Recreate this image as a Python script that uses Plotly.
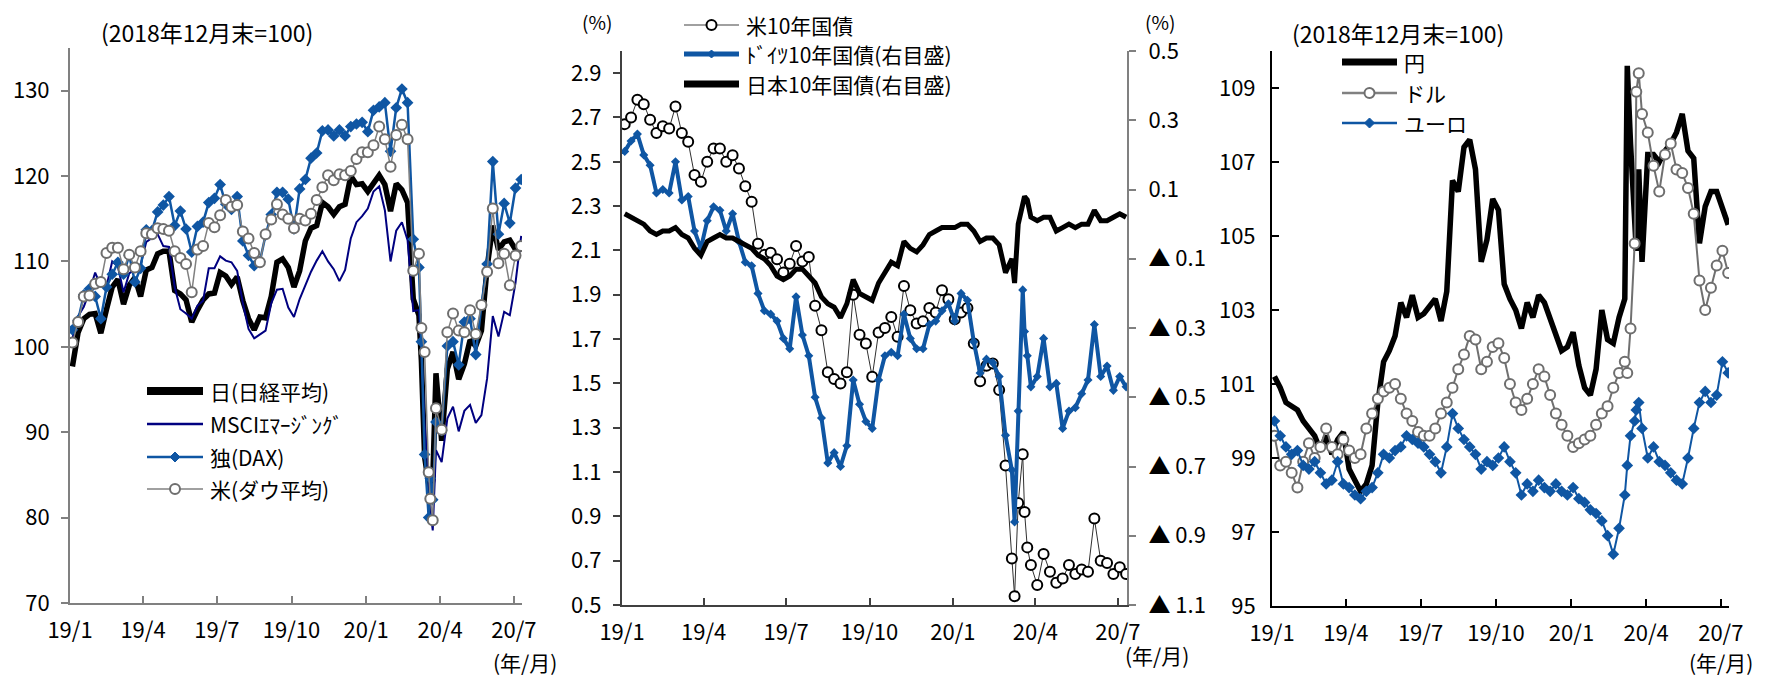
import pandas as pd
import plotly.graph_objects as go

# The page body has an 8px margin, so the figure is drawn 8px in from the
# window corner; it is sized so that it fits the 1771x686 window exactly.
WIN_W, WIN_H = 1771, 686
OFF = 8
FW, FH = WIN_W - 2 * OFF, WIN_H - 2 * OFF
FONT = "Noto Sans CJK JP"

# ---------------- data ----------------
weekly = pd.date_range("2019-01-04", "2020-07-10", freq="7D")
extra = pd.to_datetime(["2020-03-09", "2020-03-18", "2020-03-23"])
dates = weekly.union(extra)

tick_dates = ["2019-01-01", "2019-04-01", "2019-07-01", "2019-10-01",
              "2020-01-01", "2020-04-01", "2020-07-01"]
tick_labels = ["19/1", "19/4", "19/7", "19/10", "20/1", "20/4", "20/7"]

# panel 1 : stock indices (end-2018 = 100)
nikkei = [97.7, 101.7, 103.3, 103.8,
          103.9, 101.6, 104.4, 107.0,
          107.9, 105.0, 107.2, 108.1, 105.9,
          109.0, 109.3, 110.9, 111.2,
          111.2, 106.6, 106.2, 105.5, 102.9,
          104.3, 105.5, 106.2, 106.3,
          108.7, 108.3, 107.3, 108.2,
          105.4, 103.3, 102.0, 103.5, 103.4,
          105.9, 109.9, 110.3, 109.3,
          107.0, 108.9, 112.4, 113.9,
          114.2, 116.9, 116.4, 115.5, 116.4,
          116.7, 120.0, 119.0, 119.1,
          118.2, 119.2, 120.1, 119.0, 115.9,
          119.1, 118.4, 116.9, 105.6,
          103.7, 98.4, 87.1, 83.6, 82.7, 84.4, 96.9,
          89.0, 97.4, 99.4, 96.2,
          98.0, 100.8, 100.1, 101.9, 109.3,
          114.2, 111.4, 112.3, 112.5,
          111.4, 111.4]
msci_em = [101.0, 103.6, 104.7, 106.5,
           108.7, 107.1, 107.1, 110.0,
           109.4, 106.4, 108.6, 109.1, 109.6,
           112.3, 112.7, 113.2, 111.8,
           111.7, 107.0, 104.4, 103.9, 103.3,
           104.8, 105.4, 109.2, 109.2,
           110.6, 110.1, 109.9, 108.9,
           105.1, 102.1, 101.0, 101.5, 101.9,
           105.1, 106.7, 106.8, 104.6,
           103.5, 105.6, 107.2, 108.8,
           110.1, 111.2, 110.0, 109.1, 107.7,
           109.0, 112.7, 114.6, 115.3,
           116.2, 118.2, 118.8, 116.0, 110.0,
           113.6, 114.6, 112.5, 104.2,
           104.3, 99.6, 90.9, 84.8, 81.0, 78.5, 87.9,
           86.5, 91.6, 93.0, 90.1,
           92.5, 93.2, 91.1, 92.0, 96.3,
           103.6, 101.2, 104.1, 103.7,
           107.5, 113.0]
dax = [102.0, 103.1, 106.1, 106.8,
       105.9, 103.3, 107.0, 108.5,
       109.9, 108.5, 110.7, 107.6, 109.2,
       113.7, 113.6, 115.8, 116.6,
       117.6, 114.2, 115.9, 113.8, 111.1,
       114.1, 114.6, 116.9, 117.4,
       119.0, 116.7, 116.1, 117.6,
       112.4, 110.7, 109.5, 110.0, 113.1,
       115.5, 118.1, 118.1, 117.3,
       113.8, 118.5, 119.6, 122.1,
       122.7, 125.3, 125.4, 124.7, 125.4,
       124.7, 125.8, 126.1, 126.3,
       125.2, 127.7, 128.1, 128.6, 122.9,
       128.0, 130.2, 128.6, 112.6,
       109.3, 100.6, 87.4, 80.0, 84.6, 82.1, 91.2,
       90.2, 100.1, 100.6, 97.9,
       102.9, 103.3, 99.1, 104.9, 109.7,
       121.7, 113.2, 116.8, 114.5,
       118.6, 119.6]
dow = [100.5, 102.9, 105.9, 106.0,
       107.4, 107.6, 111.0, 111.6,
       111.6, 109.1, 110.8, 109.3, 111.2,
       113.3, 113.2, 113.9, 113.8,
       113.6, 111.2, 110.4, 109.7, 106.4,
       111.4, 111.8, 114.5, 114.0,
       115.4, 117.2, 116.4, 116.6,
       113.5, 112.7, 111.0, 109.9, 113.2,
       114.9, 116.7, 115.5, 115.0,
       113.9, 115.0, 114.8, 115.6,
       117.2, 118.7, 120.1, 119.5, 120.2,
       120.1, 120.6, 122.0, 122.8,
       122.8, 123.6, 125.8, 124.3, 121.1,
       124.8, 126.0, 124.3, 108.9,
       110.9, 102.2, 99.4, 85.3, 82.2, 79.7, 92.8,
       90.3, 101.7, 103.9, 101.9,
       101.7, 104.3, 101.5, 104.9, 108.8,
       116.2, 109.8, 110.9, 107.2,
       110.7, 111.8]

# panel 2 : 10-year government bond yields (%)
us10y = [2.67, 2.70, 2.78, 2.76,
         2.69, 2.63, 2.66, 2.65,
         2.75, 2.63, 2.59, 2.44, 2.41,
         2.50, 2.56, 2.56, 2.50,
         2.53, 2.47, 2.39, 2.32, 2.13,
         2.08, 2.09, 2.06, 2.00,
         2.04, 2.12, 2.05, 2.07,
         1.85, 1.74, 1.55, 1.52, 1.50,
         1.55, 1.90, 1.72, 1.68,
         1.53, 1.73, 1.75, 1.80,
         1.71, 1.94, 1.83, 1.77, 1.78,
         1.84, 1.82, 1.92, 1.88,
         1.79, 1.82, 1.84, 1.68, 1.51,
         1.58, 1.59, 1.47, 1.13,
         0.71, 0.54, 0.96, 1.18, 0.92, 0.76, 0.68,
         0.59, 0.73, 0.65, 0.60,
         0.62, 0.68, 0.64, 0.66, 0.65,
         0.89, 0.70, 0.69, 0.64,
         0.67, 0.64]
de10y = [0.21, 0.24, 0.26, 0.20,
         0.17, 0.09, 0.10, 0.09,
         0.18, 0.07, 0.08, -0.02, -0.07,
         0.01, 0.05, 0.04, -0.02,
         0.03, -0.05, -0.11, -0.12, -0.20,
         -0.25, -0.26, -0.28, -0.33,
         -0.36, -0.21, -0.32, -0.38,
         -0.50, -0.56, -0.69, -0.66, -0.70,
         -0.64, -0.45, -0.52, -0.57,
         -0.59, -0.45, -0.38, -0.37,
         -0.38, -0.26, -0.33, -0.36, -0.36,
         -0.29, -0.28, -0.25, -0.23,
         -0.28, -0.20, -0.22, -0.34, -0.43,
         -0.39, -0.40, -0.44, -0.61,
         -0.71, -0.86, -0.54, -0.19, -0.31, -0.38, -0.47,
         -0.44, -0.33, -0.47, -0.46,
         -0.59, -0.54, -0.53, -0.49, -0.45,
         -0.29, -0.44, -0.41, -0.48,
         -0.44, -0.47]
jp10y = [0.03, 0.02, 0.01, 0.00,
         -0.02, -0.03, -0.02, -0.02,
         -0.01, -0.03, -0.04, -0.07, -0.09,
         -0.05, -0.04, -0.03, -0.04,
         -0.04, -0.05, -0.06, -0.07, -0.09,
         -0.10, -0.12, -0.15, -0.16,
         -0.15, -0.13, -0.13, -0.15,
         -0.17, -0.21, -0.23, -0.24, -0.27,
         -0.23, -0.16, -0.20, -0.21,
         -0.22, -0.17, -0.14, -0.11,
         -0.12, -0.05, -0.07, -0.08, -0.06,
         -0.03, -0.02, -0.01, -0.01,
         -0.01, 0.00, 0.00, -0.02, -0.05,
         -0.04, -0.04, -0.06, -0.14,
         -0.10, -0.17, 0.00, 0.07, 0.08, 0.07, 0.02,
         0.01, 0.02, 0.02, -0.02,
         -0.01, 0.00, -0.01, 0.00, 0.00,
         0.04, 0.01, 0.01, 0.02,
         0.03, 0.02]

# panel 3 : currencies (end-2018 = 100)
yen = [101.2, 100.9, 100.5, 100.4,
       100.3, 100.0, 99.8, 99.6,
       99.2, 99.6, 99.1, 99.5, 99.7,
       98.7, 98.4, 98.1, 98.3,
       98.8, 100.5, 101.6, 101.9, 102.3,
       103.2, 102.8, 103.4, 102.8,
       102.9, 103.1, 103.3, 102.7,
       103.5, 106.5, 106.2, 107.4, 107.6,
       106.8, 104.3, 104.9, 106.0,
       105.7, 103.7, 103.3, 103.0,
       102.5, 103.2, 102.8, 103.4, 103.2,
       102.8, 102.3, 101.9, 102.0,
       102.4, 101.5, 100.9, 100.7, 101.4,
       103.0, 102.2, 102.1, 102.8,
       103.3, 109.6, 107.5, 105.2, 104.6, 106.8, 104.3,
       107.2, 107.2, 107.0, 107.3,
       107.5, 107.8, 108.3, 107.3, 107.1,
       104.8, 105.8, 106.2, 106.2,
       105.7, 105.3]
usd = [99.6, 98.8, 98.9, 98.6,
       98.2, 98.9, 99.4, 99.0,
       99.3, 99.8, 99.3, 99.1, 99.5,
       99.2, 99.0, 99.1, 99.8,
       100.2, 100.6, 100.8, 100.9, 101.0,
       100.6, 100.2, 100.0, 99.7,
       99.6, 99.6, 99.8, 100.2,
       100.5, 100.9, 101.4, 101.8, 102.3,
       102.2, 101.4, 101.6, 102.0,
       102.1, 101.7, 101.0, 100.5,
       100.3, 100.6, 101.0, 101.4, 101.2,
       100.7, 100.2, 99.9, 99.6,
       99.3, 99.4, 99.5, 99.6, 99.9,
       100.2, 100.4, 100.9, 101.3,
       101.6, 101.3, 102.5, 104.8, 108.9, 109.4, 108.3,
       107.8, 106.9, 106.2, 107.2,
       107.5, 106.8, 106.7, 106.3, 105.6,
       103.8, 103.0, 103.6, 104.2,
       104.6, 104.0]
eur = [100.0, 99.6, 99.3, 99.1,
       99.2, 98.8, 98.7, 98.9,
       98.6, 98.3, 98.4, 98.9, 98.3,
       98.2, 98.0, 97.9, 98.1,
       98.2, 98.6, 99.1, 99.0, 99.2,
       99.3, 99.6, 99.5, 99.4,
       99.3, 99.1, 98.9, 98.6,
       99.3, 100.2, 99.8, 99.5, 99.3,
       99.1, 98.7, 98.9, 98.8,
       99.0, 99.3, 98.9, 98.6,
       98.0, 98.3, 98.1, 98.4, 98.2,
       98.1, 98.3, 98.1, 98.0,
       98.2, 97.9, 97.8, 97.6, 97.5,
       97.3, 96.9, 96.4, 97.1,
       98.0, 98.8, 99.6, 100.0, 100.3, 100.5, 99.8,
       99.0, 99.3, 98.9, 98.8,
       98.6, 98.4, 98.3, 99.0, 99.8,
       100.5, 100.8, 100.5, 100.7,
       101.6, 101.3]

for s in (nikkei, msci_em, dax, dow, us10y, de10y, jp10y, yen, usd, eur):
    assert len(s) == len(dates), len(s)

# ---------------- styling ----------------
BLACK = "#000000"
NAVY = "#000080"
BLUE = "#0F56A3"
GREY = "#6E6E6E"
LGREY = "#808080"


def px(x):
    """window pixel x -> paper fraction"""
    return (x - OFF) / FW


def py(y):
    """window pixel y (from top) -> paper fraction"""
    return 1 - (y - OFF) / FH


X_RANGE = ["2019-01-01", "2020-07-11"]
tfont = dict(family=FONT, size=22, color="black")

fig = go.Figure()

# panel 1
fig.add_trace(go.Scatter(x=dates, y=nikkei, name="日(日経平均)", mode="lines",
                         line=dict(color=BLACK, width=5.5), xaxis="x", yaxis="y"))
fig.add_trace(go.Scatter(x=dates, y=msci_em, name="MSCIｴﾏｰｼﾞﾝｸﾞ", mode="lines",
                         line=dict(color=NAVY, width=2), xaxis="x", yaxis="y"))
fig.add_trace(go.Scatter(x=dates, y=dax, name="独(DAX)", mode="lines+markers",
                         line=dict(color=BLUE, width=2.5),
                         marker=dict(symbol="diamond", size=9, color=BLUE),
                         xaxis="x", yaxis="y"))
fig.add_trace(go.Scatter(x=dates, y=dow, name="米(ダウ平均)", mode="lines+markers",
                         line=dict(color=LGREY, width=1.5),
                         marker=dict(symbol="circle", size=10, color="white",
                                     line=dict(color=GREY, width=2)),
                         xaxis="x", yaxis="y"))

# panel 2
fig.add_trace(go.Scatter(x=dates, y=us10y, name="米10年国債", mode="lines+markers",
                         line=dict(color="#303030", width=1),
                         marker=dict(symbol="circle", size=10, color="white",
                                     line=dict(color=BLACK, width=2)),
                         xaxis="x2", yaxis="y2"))
fig.add_trace(go.Scatter(x=dates, y=de10y, name="ﾄﾞｲﾂ10年国債(右目盛)", mode="lines+markers",
                         line=dict(color=BLUE, width=4),
                         marker=dict(symbol="diamond", size=7, color=BLUE),
                         xaxis="x2", yaxis="y3"))
fig.add_trace(go.Scatter(x=dates, y=jp10y, name="日本10年国債(右目盛)", mode="lines",
                         line=dict(color=BLACK, width=5), xaxis="x2", yaxis="y3"))

# panel 3
fig.add_trace(go.Scatter(x=dates, y=yen, name="円", mode="lines",
                         line=dict(color=BLACK, width=5.5), xaxis="x3", yaxis="y4"))
fig.add_trace(go.Scatter(x=dates, y=usd, name="ドル", mode="lines+markers",
                         line=dict(color="#707070", width=2),
                         marker=dict(symbol="circle", size=10, color="white",
                                     line=dict(color=GREY, width=2)),
                         xaxis="x3", yaxis="y4"))
fig.add_trace(go.Scatter(x=dates, y=eur, name="ユーロ", mode="lines+markers",
                         line=dict(color=BLUE, width=2),
                         marker=dict(symbol="diamond", size=9, color=BLUE),
                         xaxis="x3", yaxis="y4"))


def xaxis_style(domain, anchor, lcolor):
    return dict(domain=domain, anchor=anchor, type="date", range=X_RANGE,
                tickmode="array", tickvals=tick_dates, ticktext=tick_labels,
                showline=True, linecolor=lcolor, linewidth=2, ticks="inside",
                ticklen=7, tickcolor=lcolor, tickwidth=1.5, showgrid=False,
                zeroline=False, tickfont=dict(family=FONT, size=22, color="black"),
                ticklabelstandoff=7, automargin=False, fixedrange=True)


def yaxis_style(domain, anchor, lcolor, rng, vals, text, ticks="outside",
                side="left", standoff=7):
    return dict(domain=domain, anchor=anchor, range=rng, tickmode="array",
                tickvals=vals, ticktext=text, showline=True, linecolor=lcolor,
                linewidth=2, ticks=ticks, ticklen=7, tickcolor=lcolor, tickwidth=1.5,
                showgrid=False, zeroline=False, tickfont=tfont, side=side,
                ticklabelstandoff=standoff, automargin=False, fixedrange=True)


y1_vals = [70, 80, 90, 100, 110, 120, 130]
y2_vals = [0.5 + 0.2 * i for i in range(13)]
y3_vals = [-1.1 + 0.2 * i for i in range(9)]
y4_vals = [95, 97, 99, 101, 103, 105, 107, 109]


def neg_label(v):
    v = round(v, 1)
    return "▲ %.1f" % abs(v) if v < 0 else "%.1f" % v


P2_DOM = [py(605), py(51)]
fig.update_layout(
    width=FW, height=FH, margin=dict(l=0, r=0, t=0, b=0, autoexpand=False),
    paper_bgcolor="white", plot_bgcolor="white", showlegend=False,
    font=dict(family=FONT, size=20, color="black"),
    xaxis=xaxis_style([px(70), px(522)], "y", LGREY),
    yaxis=yaxis_style([py(603), py(48)], "x", LGREY, [70, 135], y1_vals,
                      [str(v) for v in y1_vals]),
    xaxis2=xaxis_style([px(622), px(1127)], "y2", "#404040"),
    yaxis2=yaxis_style(P2_DOM, "x2", "#404040", [0.5, 3.0], y2_vals,
                       ["%.1f" % v for v in y2_vals]),
    yaxis3=dict(yaxis_style(P2_DOM, "x2", LGREY, [-1.1, 0.5], y3_vals,
                            [neg_label(v) for v in y3_vals], side="right",
                            standoff=8),
                overlaying="y2"),
    # inner half of the crossing ticks on the right-hand axis
    yaxis5=dict(domain=P2_DOM, anchor="x2", overlaying="y2", side="right",
                range=[-1.1, 0.5], tickmode="array", tickvals=y3_vals,
                ticks="inside", ticklen=7, tickcolor=LGREY, tickwidth=1.5,
                showticklabels=False, showline=False, showgrid=False,
                zeroline=False, automargin=False, fixedrange=True),
    xaxis3=xaxis_style([px(1272), px(1729)], "y4", BLACK),
    yaxis4=yaxis_style([py(606), py(51)], "x3", BLACK, [95, 110], y4_vals,
                       [str(v) for v in y4_vals], ticks="inside", standoff=10),
)

# ---------------- manual legends ----------------
shapes = []
LEG_FONT = dict(family=FONT, size=21, color="black")


def legend_item(x0, x1, y, text, lcolor, lwidth, marker=None, mcolor=None,
                mline=None, msize=5):
    shapes.append(dict(type="line", xref="paper", yref="paper",
                       x0=px(x0), x1=px(x1), y0=py(y), y1=py(y),
                       line=dict(color=lcolor, width=lwidth)))
    cx = (x0 + x1) / 2
    r = msize
    if marker == "circle":
        shapes.append(dict(type="circle", xref="paper", yref="paper",
                           x0=px(cx - r), x1=px(cx + r), y0=py(y + r), y1=py(y - r),
                           fillcolor="white", line=dict(color=mline, width=2)))
    elif marker == "diamond":
        path = "M {},{} L {},{} L {},{} L {},{} Z".format(
            px(cx - r), py(y), px(cx), py(y - r), px(cx + r), py(y), px(cx), py(y + r))
        shapes.append(dict(type="path", xref="paper", yref="paper", path=path,
                           fillcolor=mcolor, line=dict(color=mcolor, width=1)))
    fig.add_annotation(text=text, x=px(x1 + 5), y=py(y), xref="paper", yref="paper",
                       xanchor="left", yanchor="middle", showarrow=False, font=LEG_FONT)


# panel 1 legend
legend_item(147, 203, 391, "日(日経平均)", BLACK, 8)
legend_item(147, 203, 424, "MSCIｴﾏｰｼﾞﾝｸﾞ", NAVY, 2.5)
legend_item(147, 203, 457, "独(DAX)", BLUE, 2.5, "diamond", BLUE, msize=5)
legend_item(147, 203, 489, "米(ダウ平均)", LGREY, 1.5, "circle", mline=GREY, msize=5)
# panel 2 legend
legend_item(684, 739, 25, "米10年国債", LGREY, 1.5, "circle", mline=BLACK, msize=5)
legend_item(684, 739, 54, "ﾄﾞｲﾂ10年国債(右目盛)", BLUE, 5, "diamond", BLUE, msize=4)
legend_item(684, 739, 84, "日本10年国債(右目盛)", BLACK, 7)
# panel 3 legend
legend_item(1342, 1397, 62, "円", BLACK, 7)
legend_item(1342, 1397, 93, "ドル", LGREY, 2.5, "circle", mline=GREY, msize=5)
legend_item(1342, 1397, 123, "ユーロ", BLUE, 2.5, "diamond", BLUE, msize=5)

fig.update_layout(shapes=shapes)

ann = [
    ("(2018年12月末=100)", 207, 32, 23),
    ("(2018年12月末=100)", 1398, 33, 23),
    ("(%)", 597, 22, 19),
    ("(%)", 1160, 22, 19),
    ("(年/月)", 525, 662, 21),
    ("(年/月)", 1157, 655, 21),
    ("(年/月)", 1721, 662, 21),
]
for text, x, y, fs in ann:
    fig.add_annotation(text=text, x=px(x), y=py(y), xref="paper", yref="paper",
                       xanchor="center", yanchor="middle", showarrow=False,
                       font=dict(family=FONT, size=fs, color="black"))

fig.write_html("out.html")
